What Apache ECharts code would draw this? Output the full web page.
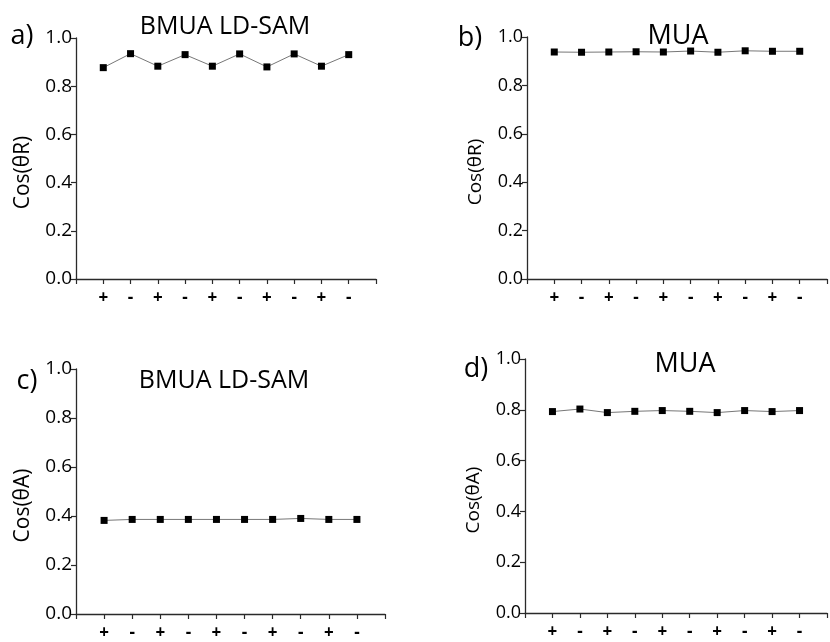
<!DOCTYPE html>
<html>
<head>
<meta charset="utf-8">
<script src="https://cdn.jsdelivr.net/npm/echarts@6/dist/echarts.min.js"></script>
<style>
html,body{margin:0;padding:0;background:#fff;}
#chart{width:830px;height:642px;}
</style>
</head>
<body>
<div id="chart"></div>
<script>
// ---- data ----
const signs = ['+', '-', '+', '-', '+', '-', '+', '-', '+', '-'];
const yTicks = [0.0, 0.2, 0.4, 0.6, 0.8, 1.0];
const panelTitles = ['BMUA LD-SAM', 'MUA', 'BMUA LD-SAM', 'MUA'];
const panelLetters = ['a)', 'b)', 'c)', 'd)'];
const yNames = ['Cos(θR)', 'Cos(θR)', 'Cos(θA)', 'Cos(θA)'];
const cosR_BMUA = [0.877, 0.935, 0.883, 0.931, 0.883, 0.934, 0.880, 0.934, 0.883, 0.931];
const cosR_MUA  = [0.938, 0.937, 0.938, 0.939, 0.938, 0.942, 0.937, 0.943, 0.941, 0.941];
const cosA_BMUA = [0.382, 0.386, 0.386, 0.386, 0.386, 0.386, 0.386, 0.390, 0.386, 0.386];
const cosA_MUA  = [0.793, 0.803, 0.789, 0.794, 0.797, 0.794, 0.789, 0.797, 0.793, 0.797];
const seriesValues = [cosR_BMUA, cosR_MUA, cosA_BMUA, cosA_MUA];

// ---- layout ----
const grids = [
  {left: 76, top: 38, width: 300, height: 241},
  {left: 527, top: 37, width: 300, height: 242},
  {left: 76, top: 369, width: 309, height: 250},
  {left: 525, top: 359, width: 316, height: 254}
];
const titlePos = [[225, 27], [678, 36], [224, 381], [685, 364]];
const letterPos = [[22, 36], [470, 38], [27, 381], [476, 369]];
const FONT = '"Open Sans", "Liberation Sans", sans-serif';
const axisColor = '#2a2a2a';

const chart = echarts.init(document.getElementById('chart'));

const xAxes = grids.map((g, i) => ({
  type: 'value', gridIndex: i, min: 0, max: signs.length + 1, interval: 1,
  axisLine: {show: true, lineStyle: {color: axisColor, width: 1.3}},
  axisTick: {show: true, inside: false, length: 5, lineStyle: {color: axisColor, width: 1.2}},
  splitLine: {show: false},
  axisLabel: {
    show: true, margin: 11, color: '#000', fontSize: 17, fontFamily: FONT, fontWeight: 'bold',
    showMinLabel: true, showMaxLabel: true,
    formatter: v => (v >= 1 && v <= signs.length) ? signs[v - 1] : ''
  }
}));

const yAxes = grids.map((g, i) => ({
  type: 'value', gridIndex: i, min: yTicks[0], max: yTicks[yTicks.length - 1], interval: 0.2,
  axisLine: {show: true, lineStyle: {color: axisColor, width: 1.3}},
  axisTick: {show: true, inside: false, length: 5, lineStyle: {color: axisColor, width: 1.2}},
  splitLine: {show: false},
  axisLabel: {show: true, margin: 4, color: '#000', fontSize: (i % 2 === 0) ? 19 : 18, fontFamily: FONT,
    formatter: v => v.toFixed(1)},
  name: yNames[i], nameLocation: 'middle', nameGap: 42, nameRotate: 90,
  nameTextStyle: {color: '#000', fontSize: (i % 2 === 0) ? 21 : 19, fontFamily: FONT, padding: [0, 28, 0, 0]}
}));

const series = seriesValues.map((vals, i) => ({
  type: 'line', xAxisIndex: i, yAxisIndex: i,
  data: vals.map((v, k) => [k + 1, v]),
  symbol: 'rect', symbolSize: 7, showSymbol: true,
  itemStyle: {color: '#000'},
  lineStyle: {color: '#777', width: 1},
  animation: false
}));

const graphics = [];
panelTitles.forEach((t, i) => {
  graphics.push({type: 'text', x: titlePos[i][0], y: titlePos[i][1],
    style: {text: t, font: (i % 2 === 0 ? '25px ' : '27px ') + FONT, fill: '#000', textAlign: 'center', textVerticalAlign: 'middle'}});
  graphics.push({type: 'text', x: letterPos[i][0], y: letterPos[i][1],
    style: {text: panelLetters[i], font: '27px ' + FONT, fill: '#000', textAlign: 'center', textVerticalAlign: 'middle'}});
});

chart.setOption({
  animation: false,
  backgroundColor: '#fff',
  grid: grids,
  xAxis: xAxes,
  yAxis: yAxes,
  series: series,
  graphic: graphics
});
</script>
</body>
</html>
